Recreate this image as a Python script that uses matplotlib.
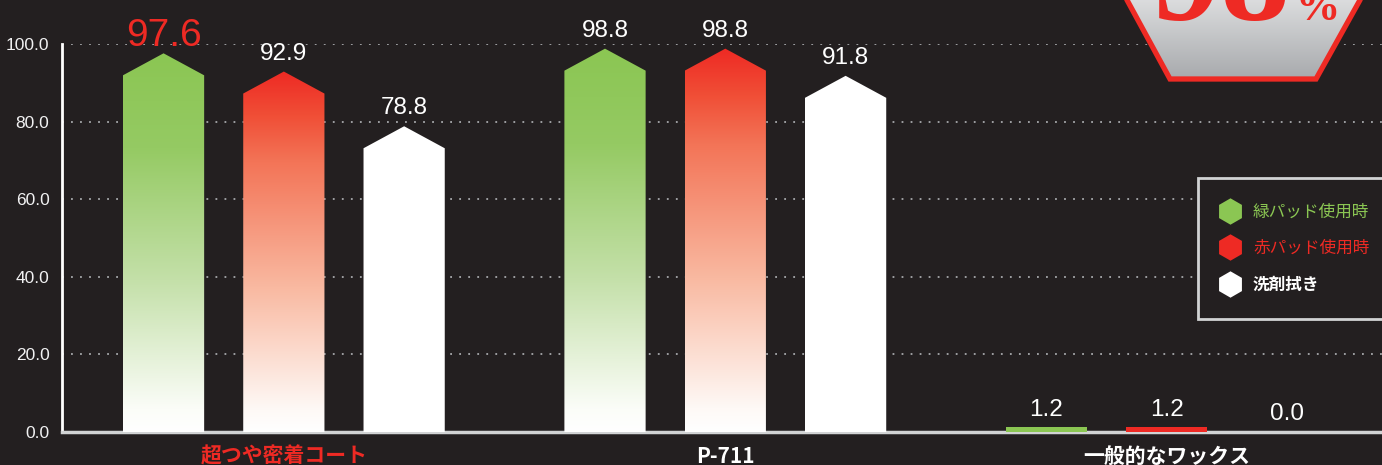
import numpy as np
import matplotlib
matplotlib.use("Agg")
import matplotlib.pyplot as plt
from matplotlib.patches import Polygon
from matplotlib.lines import Line2D
from matplotlib.colors import LinearSegmentedColormap

# ---------------- data ----------------
categories = ['超つや密着コート', 'P-711', '一般的なワックス']
series_names = ['緑パッド使用時', '赤パッド使用時', '洗剤拭き']
green_vals = [97.6, 98.8, 1.2]
red_vals = [92.9, 98.8, 1.2]
white_vals = [78.8, 91.8, 0.0]
yticks = [0, 20, 40, 60, 80, 100]
badge_number = '98'
badge_unit = '%'

# ---------------- style ----------------
W, H = 1382, 465
BG = '#231F20'
GREEN = '#8BC653'
RED = '#EE2A24'
plt.rcParams['font.family'] = ['Liberation Sans', 'Noto Sans CJK JP', 'DejaVu Sans']

fig = plt.figure(figsize=(W / 100, H / 100), dpi=100, facecolor=BG)
ax = fig.add_axes([62 / W, 33 / H, 1320 / W, 388 / H])
ax.set_facecolor(BG)
XL = (-0.5025, 2.4875)

green_cmap = LinearSegmentedColormap.from_list(
    'g', [(0, '#FFFFFF'), (0.06, '#FBFDF8'), (0.4, '#C4E0A9'),
          (0.75, '#95CA63'), (1, GREEN)])
red_cmap = LinearSegmentedColormap.from_list(
    'r', [(0, '#FFFFFF'), (0.06, '#FEF9F6'), (0.4, '#F9B9A1'),
          (0.75, '#F37457'), (0.88, '#F04E36'), (1, RED)])

px_per_unit = 388 / 100
shoulder = 22 / px_per_unit
width = 0.184
offsets = [-0.2725, 0.0, 0.2725]
series = [(green_vals, green_cmap, GREEN), (red_vals, red_cmap, RED),
          (white_vals, None, '#FFFFFF')]

xs = np.arange(len(categories))
grad = np.linspace(0, 1, 256).reshape(-1, 1)
for si, (vals, cmap, solid) in enumerate(series):
    for ci, v in enumerate(vals):
        x = xs[ci] + offsets[si]
        x0, x1 = x - width / 2, x + width / 2
        if v <= 0:
            continue
        if v > 2 * shoulder:
            pts = [(x0, 0), (x0, v - shoulder), (x, v), (x1, v - shoulder), (x1, 0)]
        else:
            pts = [(x0, 0), (x0, v), (x1, v), (x1, 0)]
        if cmap is None or v <= 2 * shoulder:
            poly = Polygon(pts, closed=True, facecolor=solid, edgecolor='none', zorder=3)
            ax.add_patch(poly)
        else:
            poly = Polygon(pts, closed=True, facecolor='none', edgecolor='none', zorder=3)
            ax.add_patch(poly)
            im = ax.imshow(grad, cmap=cmap, extent=[x0, x1, 0, v], origin='lower',
                           aspect='auto', zorder=3, interpolation='bilinear')
            im.set_clip_path(poly)

# value labels
for si, (vals, cmap, solid) in enumerate(series):
    for ci, v in enumerate(vals):
        x = xs[ci] + offsets[si]
        if si == 0 and ci == 0:
            ax.annotate(f'{v:.1f}', (x, v), xytext=(0, 5.5), textcoords='offset points',
                        ha='center', va='baseline', color=RED, fontsize=28,
                        family='Liberation Sans', annotation_clip=False)
        else:
            ax.annotate(f'{v:.1f}', (x, v), xytext=(0, 8.5), textcoords='offset points',
                        ha='center', va='baseline', color='white', fontsize=17.5,
                        family='Liberation Sans', annotation_clip=False)

ax.set_xlim(*XL)
ax.set_ylim(0, 100)

# axes styling
ax.set_yticks(yticks, [f'{t:.1f}' for t in yticks])
ax.set_xticks(xs, categories)
ax.tick_params(axis='y', length=0, pad=9, labelsize=12.5, labelcolor='#F1F1F2')
ax.tick_params(axis='x', length=0, pad=10)
for lbl, col in zip(ax.get_xticklabels(), [RED, 'white', 'white']):
    lbl.set_color(col)
    lbl.set_family(['Noto Sans CJK JP'])
    lbl.set_fontweight('bold')
    lbl.set_fontsize(15)
ax.yaxis.grid(True, linestyle=(0, (1, 4)), color='#A7A9AC', linewidth=1.3)
ax.set_axisbelow(True)
for s in ['top', 'right']:
    ax.spines[s].set_visible(False)
ax.spines['left'].set_color('white')
ax.spines['left'].set_linewidth(2)
ax.spines['bottom'].set_color('#D1D3D4')
ax.spines['bottom'].set_linewidth(2.5)

# legend
handles = [Line2D([], [], linestyle='none', marker='h', markersize=19,
                  markerfacecolor=c, markeredgecolor='none')
           for c in [GREEN, RED, '#FFFFFF']]
leg = fig.legend(handles, series_names, loc='upper left',
                 bbox_to_anchor=(1198 / W, 1 - 183 / H, 200 / W, 0.01),
                 mode='expand', borderaxespad=0,
                 frameon=True, fancybox=False, facecolor=BG, edgecolor='#D1D3D4',
                 framealpha=1,
                 prop={'family': ['Noto Sans CJK JP'], 'size': 12},
                 handlelength=0.8, handletextpad=1.0, borderpad=1.5,
                 labelspacing=1.15, labelcolor=[GREEN, RED, 'white'])
leg.get_frame().set_linewidth(2)
leg.set_zorder(10)
leg.get_texts()[2].set_fontweight('bold')

# badge (top right)
bax = fig.add_axes([1100 / W, (H - 90) / H, 282 / W, 90 / H])
bax.set_xlim(1100, 1382)
bax.set_ylim(90, 0)
bax.axis('off')
bpts = [(1121, -10), (1127, 0), (1170, 79), (1316, 79), (1360, 0), (1366, -10)]
bpoly = Polygon(bpts, closed=True, facecolor='none', edgecolor=RED, linewidth=3.8,
                joinstyle='miter', zorder=3)
bax.add_patch(bpoly)
bgrad = bax.imshow(np.linspace(0, 1, 128).reshape(-1, 1),
                   cmap=LinearSegmentedColormap.from_list('s', ['#E2E3E4', '#A6A8AB']),
                   extent=[1100, 1382, 82, -10], origin='upper', aspect='auto', zorder=1)
bgrad.set_clip_path(bpoly)
bax.set_xlim(1100, 1382)
bax.set_ylim(90, 0)
bax.text(1290, 20, badge_number, ha='right', va='baseline', color=RED,
         fontsize=100, fontweight='bold', family='Liberation Serif', zorder=4)
bax.text(1296, 20, badge_unit, ha='left', va='baseline', color=RED,
         fontsize=32, fontweight='bold', family='Liberation Serif', zorder=4)

fig.savefig('out.png', dpi=100, facecolor=BG)
